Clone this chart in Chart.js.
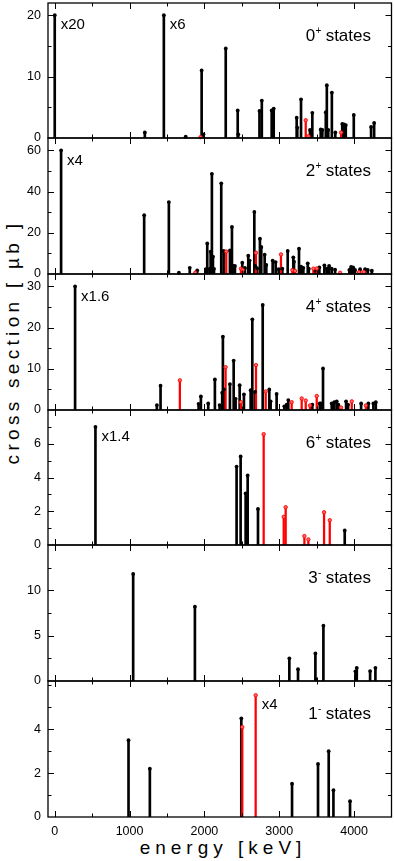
<!DOCTYPE html>
<html><head><meta charset="utf-8">
<script src="https://cdn.jsdelivr.net/npm/chart.js@4.4.1/dist/chart.umd.min.js"></script>
<style>
html,body{margin:0;padding:0;background:#fff;}
#wrap{position:relative;width:395px;height:861px;overflow:hidden;font-family:"Liberation Sans",Arial,sans-serif;color:#000;}
canvas{position:absolute;left:0;}
#ytitle{position:absolute;left:13px;top:342px;transform:translate(-50%,-50%) rotate(-90deg);white-space:nowrap;font-size:19px;letter-spacing:4.3px;}
#xtitle{position:absolute;left:223px;top:848px;transform:translate(-50%,-50%);white-space:nowrap;font-size:19px;letter-spacing:5px;}
</style></head><body>
<div id="wrap">
  <div id="ytitle">cross section [ µb ]</div>
  <div id="xtitle">energy [keV]</div>
</div>
<script>
// ---------- data (energies in keV, cross sections in µb) ----------
const xTickValues = [0, 500, 1000, 1500, 2000, 2500, 3000, 3500, 4000, 4500];
const xLabelValues = [0, 1000, 2000, 3000, 4000];

// 0+ states
const zeroPlusEnergy = [0, 1204, 1458, 1750, 1963, 1987, 2285, 2445, 2452, 2736, 2767, 2899, 2926, 3233, 3241, 3291, 3411, 3442, 3554, 3576, 3622, 3636, 3655, 3703, 3749, 3842, 3866, 3889, 3996, 4227, 4268];
const zeroPlusXs     = [20, 0.9, 20, 0.2, 11.0, 0.6, 14.6, 4.5, 0.6, 4.4, 6.1, 4.5, 4.8, 3.3, 1.7, 6.3, 1.3, 4.1, 1.4, 1.3, 4.2, 8.6, 1.3, 7.4, 0.9, 2.3, 2.2, 2.1, 3.75, 1.8, 2.45];
const zeroPlusRedEnergy = [1949, 3354, 3391, 3826];
const zeroPlusRedXs     = [0.15, 2.9, 0.3, 0.9];
const zeroPlusTicks = [0, 10, 20];

// 2+ states
const twoPlusEnergy = [85, 1195, 1525, 1659, 1804, 1904, 2020, 2038, 2068, 2083, 2100, 2114, 2128, 2225, 2257, 2341, 2368, 2386, 2408, 2506, 2542, 2586, 2604, 2667, 2680, 2704, 2742, 2760, 2805, 2827, 2912, 2952, 2992, 3041, 3113, 3188, 3197, 3264, 3291, 3322, 3381, 3395, 3478, 3536, 3603, 3635, 3666, 3701, 3746, 3937, 3960, 3987, 4013, 4080, 4147, 4183, 4237];
const twoPlusXs     = [60, 28.5, 34.9, 0.6, 3.0, 1.8, 2.3, 14.8, 2.5, 10.8, 48.6, 8.4, 2.5, 44.0, 11.2, 11.4, 22.8, 3.9, 3.9, 5.5, 2.9, 8.9, 6.5, 30.1, 3.9, 2.8, 17.1, 13.1, 9.4, 4.4, 6.5, 5.8, 2.4, 2.6, 11.2, 8.1, 6.0, 12.3, 3.6, 3.0, 5.2, 2.6, 2.0, 3.2, 4.2, 2.6, 3.9, 2.6, 2.1, 2.0, 3.4, 3.2, 2.0, 2.3, 2.3, 2.0, 1.6];
const twoPlusRedEnergy = [1877, 2292, 2488, 2511, 2689, 3023, 3175, 3211, 3456, 3501, 3813, 4067, 4130];
const twoPlusRedXs     = [0.6, 10.9, 2.6, 2.0, 10.3, 9.5, 1.9, 1.5, 2.6, 2.7, 0.6, 0.9, 1.0];
const twoPlusTicks = [0, 20, 40, 60];

// 4+ states
const fourPlusEnergy = [272, 1365, 1414, 1922, 1953, 2051, 2140, 2203, 2238, 2247, 2260, 2341, 2391, 2417, 2471, 2528, 2618, 2640, 2676, 2779, 2867, 2885, 2965, 3068, 3099, 3121, 3442, 3541, 3560, 3585, 3701, 3735, 3768, 3790, 3893, 3920, 4094, 4191, 4258, 4290];
const fourPlusXs     = [30, 1.2, 5.9, 1.5, 3.3, 1.6, 7.4, 1.2, 4.2, 17.8, 5.0, 6.3, 12.0, 2.7, 6.0, 3.8, 4.8, 22.0, 4.4, 25.5, 5.0, 2.1, 3.9, 0.9, 1.3, 2.4, 1.3, 1.6, 1.6, 10.1, 1.6, 1.9, 2.1, 1.3, 2.1, 1.3, 1.6, 1.6, 1.6, 1.9];
const fourPlusRedEnergy = [1672, 2283, 2488, 2689, 2819, 3166, 3300, 3354, 3411, 3501, 3826, 3969, 4157];
const fourPlusRedXs     = [7.2, 10.4, 1.9, 10.9, 4.5, 1.9, 2.8, 2.3, 1.1, 3.4, 0.6, 2.1, 1.1];
const fourPlusTicks = [0, 10, 20, 30];

// 6+ states
const sixPlusEnergy = [544, 2430, 2484, 2551, 2578, 2716, 3875];
const sixPlusXs     = [7.0, 4.65, 5.25, 3.06, 4.12, 2.14, 0.86];
const sixPlusRedEnergy = [2792, 3060, 3086, 3336, 3389, 3599, 3675];
const sixPlusRedXs     = [6.57, 1.67, 2.24, 0.53, 0.33, 1.94, 1.47];
const sixPlusTicks = [0, 2, 4, 6];

// 3- states
const threeMinusEnergy = [1048, 1873, 3135, 3251, 3483, 3490, 3590, 4018, 4036, 4214, 4285];
const threeMinusXs     = [11.8, 8.2, 2.5, 1.3, 3.04, 0.2, 6.1, 1.07, 1.45, 1.1, 1.45];
const threeMinusRedEnergy = [];
const threeMinusRedXs     = [];
const threeMinusTicks = [0, 5, 10];

// 1- states
const oneMinusEnergy = [986, 1271, 2493, 3171, 3518, 3661, 3724, 3946];
const oneMinusXs     = [3.5, 2.2, 4.5, 1.52, 2.42, 3.0, 1.22, 0.72];
const oneMinusRedEnergy = [2506, 2685];
const oneMinusRedXs     = [4.1, 5.55];
const oneMinusTicks = [0, 2, 4];

// scale factors written next to the scaled stems
const zeroPlusNotes  = [{e: 0, v: 20, t: 'x20'}, {e: 1458, v: 20, t: 'x6'}];
const twoPlusNotes   = [{e: 85, v: 60, t: 'x4'}];
const fourPlusNotes  = [{e: 272, v: 30, t: 'x1.6'}];
const sixPlusNotes   = [{e: 544, v: 7, t: 'x1.4'}];
const threeMinusNotes = [];
const oneMinusNotes  = [{e: 2685, v: 5.55, t: 'x4'}];

// ---------- layout ----------
const FONT = '"Liberation Sans", Arial, sans-serif';
const panels = [
  {top: 3,   bottom: 138, yMax: 22,  step: 5,   labels: zeroPlusTicks,  J: '0', P: '+', e: zeroPlusEnergy,  v: zeroPlusXs,  re: zeroPlusRedEnergy,  rv: zeroPlusRedXs,  notes: zeroPlusNotes},
  {top: 138, bottom: 274, yMax: 66,  step: 10,  labels: twoPlusTicks,   J: '2', P: '+', e: twoPlusEnergy,   v: twoPlusXs,   re: twoPlusRedEnergy,   rv: twoPlusRedXs,   notes: twoPlusNotes},
  {top: 274, bottom: 410, yMax: 33,  step: 5,   labels: fourPlusTicks,  J: '4', P: '+', e: fourPlusEnergy,  v: fourPlusXs,  re: fourPlusRedEnergy,  rv: fourPlusRedXs,  notes: fourPlusNotes},
  {top: 410, bottom: 545, yMax: 8,   step: 1,   labels: sixPlusTicks,   J: '6', P: '+', e: sixPlusEnergy,   v: sixPlusXs,   re: sixPlusRedEnergy,   rv: sixPlusRedXs,   notes: sixPlusNotes},
  {top: 545, bottom: 681, yMax: 15,  step: 2.5, labels: threeMinusTicks, J: '3', P: '-', e: threeMinusEnergy, v: threeMinusXs, re: threeMinusRedEnergy, rv: threeMinusRedXs, notes: threeMinusNotes},
  {top: 681, bottom: 817, yMax: 6.2, step: 1,   labels: oneMinusTicks,  J: '1', P: '-', e: oneMinusEnergy,  v: oneMinusXs,  re: oneMinusRedEnergy,  rv: oneMinusRedXs,  notes: oneMinusNotes}
];

const pts = (E, V) => E.map((x, i) => ({x: x, y: V[i]}));
const noPad = (s) => { s.paddingTop = 0; s.paddingBottom = 0; s.paddingLeft = 0; s.paddingRight = 0; };

function framePlugin() {
  return {
    id: 'frame',
    afterDatasetsDraw(chart) {
      const {ctx, chartArea: a} = chart;
      const xs = chart.scales.x, ys = chart.scales.y;
      ctx.save();
      ctx.strokeStyle = '#000';
      ctx.lineWidth = 1;
      ctx.beginPath();
      xTickValues.forEach(v => {
        const px = Math.round(xs.getPixelForValue(v)) + 0.5;
        if (px < a.left || px > a.right) return;
        const L = xLabelValues.includes(v) ? 6 : 3.5;
        ctx.moveTo(px, a.bottom); ctx.lineTo(px, a.bottom - L);
        ctx.moveTo(px, a.top); ctx.lineTo(px, a.top + L);
      });
      ys.ticks.forEach(t => {
        if (t.value <= ys.min || t.value >= ys.max) return;
        const py = Math.round(ys.getPixelForValue(t.value)) + 0.5;
        const L = t.label !== '' ? 6 : 3.5;
        ctx.moveTo(a.left, py); ctx.lineTo(a.left + L, py);
        ctx.moveTo(a.right, py); ctx.lineTo(a.right - L, py);
      });
      ctx.stroke();
      ctx.lineWidth = 1.3;
      ctx.strokeRect(a.left, a.top, a.width, a.height);
      ctx.restore();
    }
  };
}

function textPlugin(p) {
  return {
    id: 'texts',
    afterDatasetsDraw(chart) {
      const {ctx, chartArea: a} = chart;
      const xs = chart.scales.x, ys = chart.scales.y;
      ctx.save();
      ctx.fillStyle = '#000';
      ctx.font = '15px ' + FONT;
      ctx.textAlign = 'left';
      ctx.textBaseline = 'middle';
      p.notes.forEach(n => {
        ctx.fillText(n.t, xs.getPixelForValue(n.e) + 6, ys.getPixelForValue(n.v) + 10);
      });
      ctx.textBaseline = 'alphabetic';
      const base = a.top + 38;
      const right = a.right - 20.5;
      ctx.font = '17px ' + FONT;
      const w1 = ctx.measureText(p.J).width;
      const w3 = ctx.measureText(' states').width;
      ctx.font = '10px ' + FONT;
      const w2 = ctx.measureText(p.P).width;
      let x0 = right - w1 - w2 - w3;
      ctx.font = '17px ' + FONT;
      ctx.fillText(p.J, x0, base);
      ctx.font = '10px ' + FONT;
      ctx.fillText(p.P, x0 + w1 + 0.5, base - 7);
      ctx.font = '17px ' + FONT;
      ctx.fillText(' states', x0 + w1 + w2, base);
      ctx.restore();
    }
  };
}

const wrap = document.getElementById('wrap');
panels.forEach((p, idx) => {
  const last = idx === panels.length - 1;
  const cv = document.createElement('canvas');
  const cTop = p.top - 3;
  const cH = last ? 861 - cTop : (p.bottom - p.top) + 6;
  cv.width = 395; cv.height = cH;
  cv.style.top = cTop + 'px';
  cv.style.width = '395px'; cv.style.height = cH + 'px';
  wrap.appendChild(cv);

  new Chart(cv, {
    type: 'bar',
    data: {
      datasets: [
        {type: 'bar', data: pts(p.e, p.v), backgroundColor: '#000', barThickness: 2, order: 4},
        {type: 'bar', data: pts(p.re, p.rv), backgroundColor: '#ff0000', barThickness: 1.6, order: 3},
        {type: 'scatter', data: pts(p.e, p.v), pointRadius: 1.9, pointBackgroundColor: '#000', pointBorderWidth: 0, order: 2, clip: false},
        {type: 'scatter', data: pts(p.re, p.rv), pointRadius: 1.7, pointBackgroundColor: '#ff6a6a', pointBorderColor: '#ff0000', pointBorderWidth: 0.9, order: 1, clip: false}
      ]
    },
    options: {
      responsive: false,
      animation: false,
      events: [],
      devicePixelRatio: 1,
      layout: {autoPadding: false, padding: {top: 3, bottom: last ? 0 : 3, left: 0, right: 3.5}},
      datasets: {bar: {grouped: false}},
      scales: {
        x: {
          type: 'linear', min: -90, max: 4500, offset: false,
          grid: {display: false, drawTicks: false},
          border: {display: false},
          ticks: {display: last, autoSkip: false, maxRotation: 0, padding: 7, color: '#000', font: {family: FONT, size: 12.5},
                  callback: (v) => String(v)},
          afterBuildTicks(s) { s.ticks = xLabelValues.map(v => ({value: v})); },
          afterFit(s) { s.height = last ? 44 : 0; noPad(s); }
        },
        y: {
          type: 'linear', min: 0, max: p.yMax,
          grid: {display: false, drawTicks: false},
          border: {display: false},
          ticks: {
            stepSize: p.step, includeBounds: false, autoSkip: false, padding: 7, color: '#000',
            font: {family: FONT, size: 12.5},
            callback: (v) => p.labels.includes(v) ? String(v) : ''
          },
          afterFit(s) { s.width = 48; noPad(s); }
        }
      },
      plugins: {legend: {display: false}, tooltip: {enabled: false}}
    },
    plugins: [framePlugin(), textPlugin(p)]
  });
});
</script>
</body></html>
